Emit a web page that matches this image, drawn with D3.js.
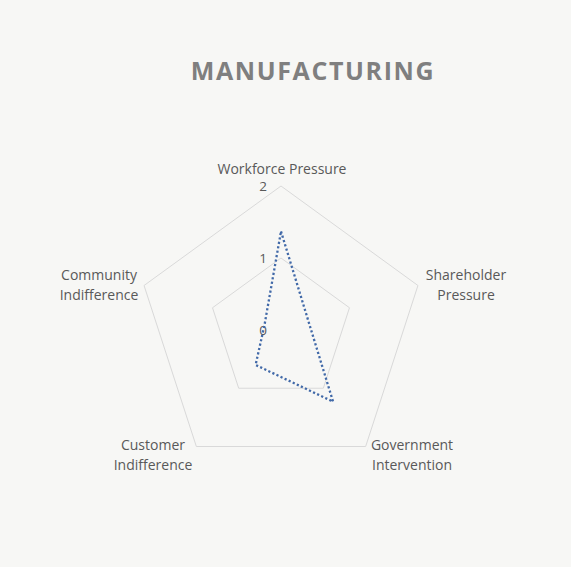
<!DOCTYPE html>
<html><head><meta charset="utf-8">
<script src="https://cdn.jsdelivr.net/npm/d3@7"></script>
<style>
html,body{margin:0;padding:0;background:#f7f7f5;}
svg{display:block;font-family:"Open Sans","Noto Sans",sans-serif;}
</style></head>
<body>
<svg id="chart" width="571" height="567"></svg>
<script>
const title = "MANUFACTURING";
const categories = [["Workforce Pressure"],["Shareholder","Pressure"],["Government","Intervention"],["Customer","Indifference"],["Community","Indifference"]];
const values = [1.37, 0.40, 1.23, 0.60, 0.24];
const tickValues = [0, 1, 2];

const svg = d3.select("#chart");
const W = 571, H = 567;
svg.append("rect").attr("width", W).attr("height", H).attr("fill", "#f7f7f5");

const cx = 281, cy = 330, R = 144;
const r = d3.scaleLinear().domain([0, 2]).range([0, R]);
const angle = d3.scaleLinear().domain([0, categories.length]).range([0, 2 * Math.PI]);
const pt = (i, v) => [cx + r(v) * Math.sin(angle(i)), cy - r(v) * Math.cos(angle(i))];

// title
svg.append("text").attr("x", 313).attr("y", 80).attr("text-anchor", "middle")
  .attr("font-size", 25).attr("font-weight", "bold").attr("letter-spacing", 1.6)
  .attr("fill", "#7f7f7f").text(title);

// grid pentagons
tickValues.filter(t => t > 0).forEach(t => {
  const pts = categories.map((c, i) => pt(i, t));
  svg.append("path").attr("d", d3.line()(pts) + "Z")
    .attr("fill", "none").attr("stroke", "#d9d9d9").attr("stroke-width", 1);
});

// tick labels
tickValues.forEach(t => {
  svg.append("text").attr("x", cx - 14).attr("y", cy - r(t) + 5)
    .attr("text-anchor", "end").attr("font-size", 13.5).attr("fill", "#595959").text(t);
});

// data polygon
const dpts = values.map((v, i) => pt(i, v));
svg.append("path").attr("d", d3.line()(dpts) + "Z")
  .attr("fill", "none").attr("stroke", "#4169a8").attr("stroke-width", 2.3)
  .attr("stroke-dasharray", "2.2 2.3").attr("stroke-linejoin", "round");

// category labels
const labelPos = [
  {x: 282, y: 174},
  {x: 466, y: 280},
  {x: 412, y: 450},
  {x: 153, y: 450},
  {x: 99, y: 280}
];
categories.forEach((lines, i) => {
  const t = svg.append("text").attr("text-anchor", "middle")
    .attr("font-size", 14).attr("fill", "#595959");
  lines.forEach((l, j) => {
    t.append("tspan").attr("x", labelPos[i].x).attr("y", labelPos[i].y + j * 19.5).text(l);
  });
});
</script>
</body></html>
